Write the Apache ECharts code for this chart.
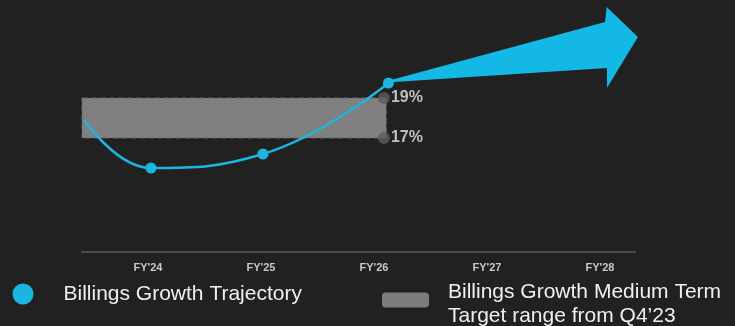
<!DOCTYPE html>
<html>
<head>
<meta charset="utf-8">
<script src="https://cdn.jsdelivr.net/npm/echarts@6/dist/echarts.min.js"></script>
<style>
  html, body { margin: 0; padding: 0; background: #212121; }
  #chart { width: 735px; height: 326px; }
</style>
</head>
<body>
<div id="chart"></div>
<script>
const categories = ["FY'24", "FY'25", "FY'26", "FY'27", "FY'28"];

// trajectory line: [x position on the year scale, growth %]
const trajectoryX = [-0.56, 0.03, 1.02, 2.13];
const trajectoryY = [17.9, 15.5, 16.2, 19.75];

// medium term target band
const targetLow = 17;
const targetHigh = 19;
const targetFrom = -0.58;
const targetTo = 2.11;

// arrow outline beyond FY'26
const arrowX = [2.12, 4.045, 4.06, 4.336, 4.062, 4.062, 2.18];
const arrowY = [19.85, 22.8, 23.55, 22.05, 19.5, 20.5, 19.8];

const lineName = 'Billings Growth Trajectory';
const bandName = 'Billings Growth Medium Term\nTarget range from Q4\u201923';

const chart = echarts.init(document.getElementById('chart'));

const option = {
  backgroundColor: '#212121',
  animation: false,
  grid: [
    { left: 82, right: 100, top: 0, bottom: 74 },
    { left: 91.5, right: 78.5, top: 0, bottom: 74 }
  ],
  xAxis: [
    {
      type: 'value', min: -0.58, max: 4.31,
      axisLine: { show: true, lineStyle: { color: '#4a4a4a', width: 2 } },
      axisTick: { show: false }, axisLabel: { show: false }, splitLine: { show: false }
    },
    {
      type: 'category', gridIndex: 1, data: categories,
      axisLine: { show: false }, axisTick: { show: false },
      axisLabel: {
        margin: 10, color: '#c8c8c8', fontSize: 11, fontWeight: 'bold',
        fontFamily: 'Liberation Sans Narrow, Liberation Sans, Arial'
      }
    }
  ],
  yAxis: [
    { type: 'value', min: 11.3, max: 23.9, show: false, splitLine: { show: false } },
    { type: 'value', gridIndex: 1, show: false }
  ],
  legend: [
    {
      data: [lineName], left: 12.5, top: 283.5, padding: 0, icon: 'circle',
      itemWidth: 21, itemHeight: 21, selectedMode: false,
      textStyle: { color: '#efefef', fontSize: 21, fontFamily: 'Liberation Sans, Arial', padding: [0, 0, 0, 25] }
    },
    {
      data: [bandName], left: 382, top: 273, padding: 0, icon: 'roundRect',
      itemWidth: 47, itemHeight: 15, selectedMode: false,
      formatter: (name) => '{s| }\n' + name.split('\n').map((t) => '{a|' + t + '}').join('\n'),
      textStyle: {
        color: '#efefef', fontSize: 21, fontFamily: 'Liberation Sans, Arial', padding: [0, 0, 0, 14],
        rich: {
          s: { fontSize: 6, lineHeight: 9 },
          a: { color: '#efefef', fontSize: 21, lineHeight: 24, fontFamily: 'Liberation Sans, Arial' }
        }
      }
    }
  ],
  series: [
    {
      name: bandName,
      type: 'custom',
      itemStyle: { color: '#7c7c7c' },
      data: [[targetFrom, targetHigh, targetTo, targetLow]],
      renderItem: (params, api) => {
        const p0 = api.coord([api.value(0), api.value(1)]);
        const p1 = api.coord([api.value(2), api.value(3)]);
        return {
          type: 'rect',
          shape: { x: p0[0], y: p0[1], width: p1[0] - p0[0], height: p1[1] - p0[1] },
          style: { fill: '#808080', stroke: '#6a6a6a', lineWidth: 1, lineDash: [6, 3] }
        };
      }
    },
    {
      type: 'scatter',
      symbolSize: 12,
      itemStyle: { color: '#5c5c5c' },
      label: {
        show: true, position: 'right', distance: 1,
        formatter: (p) => p.value[1] + '%',
        color: '#e6e6e6', fontSize: 16, fontWeight: 'bold', fontFamily: 'Liberation Sans, Arial'
      },
      data: [[targetTo - 0.02, targetHigh], [targetTo - 0.02, targetLow]],
      z: 3
    },
    {
      name: 'arrow',
      type: 'custom',
      clip: false,
      data: [0],
      renderItem: (params, api) => {
        const pts = arrowX.map((x, i) => api.coord([x, arrowY[i]]));
        return { type: 'polygon', shape: { points: pts }, style: { fill: '#14b8e4' } };
      },
      z: 4
    },
    {
      name: lineName,
      type: 'line',
      smooth: 0.45,
      symbol: 'circle',
      symbolSize: 11,
      color: '#1cb5df',
      lineStyle: { width: 2.5, color: '#1cb5df' },
      data: trajectoryX.map((x, i) => i === 0
        ? { value: [x, trajectoryY[i]], symbol: 'none' }
        : [x, trajectoryY[i]]),
      z: 5
    }
  ]
};

chart.setOption(option);
</script>
</body>
</html>
